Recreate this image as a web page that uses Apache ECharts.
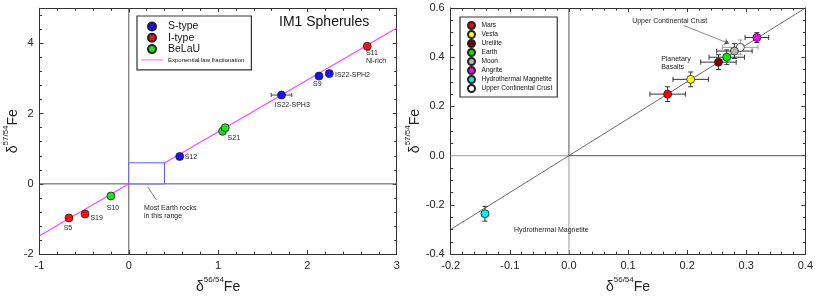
<!DOCTYPE html>
<html><head><meta charset="utf-8">
<script src="https://cdn.jsdelivr.net/npm/echarts@6/dist/echarts.min.js"></script>
<style>html,body{margin:0;padding:0;background:#fff}#c{width:816px;height:299px}</style>
</head><body><div id="c"></div>
<script>
// ---------- Left panel: IM1 spherules ----------
const sTypeNames = ['S12', 'IS22-SPH3', 'S9', 'IS22-SPH2'];
const sTypeX = [0.57, 1.71, 2.13, 2.245];
const sTypeY = [0.78, 2.53, 3.07, 3.14];
const iTypeNames = ['S5', 'S19', 'S11\nNi-rich'];
const iTypeX = [-0.67, -0.49, 2.67];
const iTypeY = [-0.97, -0.86, 3.92];
const belauNames = ['S10', 'S21', ''];
const belauX = [-0.20, 1.05, 1.08];
const belauY = [-0.345, 1.50, 1.60];
const leftErrX = [1.71, 1.05, 1.08];
const leftErrY = [2.53, 1.50, 1.60];
const leftErrDX = [0.115, 0.03, 0.03];
const leftErrDY = [0.08, 0.10, 0.08];
const fracLineX = [-1, 3];
const fracLineY = [-1.48, 4.44];
const earthBox = [0, 0, 0.4, 0.6];
const leftNoteText = ['Most Earth rocks\nin this range'];
const leftNoteX = [0.17];
const leftNoteY = [-0.8];
const leftLeaderX = [0.21, 0.31];
const leftLeaderY = [-0.08, -0.46];
const leftXTicks = [-1, 0, 1, 2, 3];
const leftYTicks = [-2, 0, 2, 4];

// ---------- Right panel: planetary materials ----------
const rightNames = ['Mars', 'Vesta', 'Ureilite', 'Earth', 'Moon', 'Angrite', 'Hydrothermal Magnetite', 'Upper Continental Crust'];
const rightX = [0.167, 0.206, 0.253, 0.267, 0.280, 0.318, -0.142, 0.290];
const rightY = [0.25, 0.31, 0.38, 0.40, 0.425, 0.48, -0.236, 0.44];
const rightDX = [0.03, 0.03, 0.03, 0.03, 0.03, 0.02, 0.006, 0.03];
const rightDY = [0.03, 0.03, 0.03, 0.03, 0.03, 0.02, 0.03, 0.03];
const massLineX = [-0.2, 0.4];
const massLineY = [-0.3, 0.6];
const rightNoteText = ['Upper Continental Crust', 'Planetary\nBasalts', 'Hydrothermal Magnetite'];
const rightNoteX = [0.107, 0.156, -0.093];
const rightNoteY = [0.545, 0.376, -0.304];
const uccArrowX = [0.194, 0.271];
const uccArrowY = [0.529, 0.456];

// ---------- styles (not data) ----------
const FONT = "'Liberation Sans', Arial, sans-serif";
const sTypeColor = '#1414f0', iTypeColor = '#f01414', belauColor = '#22dd22';
const rightColors = ['#ff0000', '#ffff00', '#800000', '#00ee00', '#b4b4b4', '#ff00ff', '#00f0f0', '#ffffff'];
const sTypeLabelOff = [[5, 1], [-6.7, 10.4], [-6, 8.4], [5.7, 1.3]];
const iTypeLabelOff = [[-5.3, 10], [5.4, 4.3], [-1.3, 11]];
const belauLabelOff = [[-4.3, 11.7], [5, 7], [0, 0]];

function pts(xs, ys, names, offs) {
  return xs.map((x, i) => ({
    value: [x, ys[i]],
    label: {
      show: !!names[i], formatter: names[i], position: 'inside', align: 'left', verticalAlign: 'middle',
      offset: offs[i], fontSize: 7, lineHeight: 8, color: '#222', fontFamily: FONT
    }
  }));
}

function errRender(cap) {
  return function (params, api) {
    const x = api.value(0), y = api.value(1), dx = api.value(2), dy = api.value(3);
    const l = api.coord([x - dx, y]), r = api.coord([x + dx, y]);
    const t = api.coord([x, y + dy]), b = api.coord([x, y - dy]);
    const st = { stroke: api.visual('color'), lineWidth: 1 };
    const L = (x1, y1, x2, y2) => ({ type: 'line', shape: { x1, y1, x2, y2 }, style: st });
    return {
      type: 'group', children: [
        L(l[0], l[1], r[0], r[1]), L(l[0], l[1] - cap, l[0], l[1] + cap), L(r[0], r[1] - cap, r[0], r[1] + cap),
        L(t[0], t[1], b[0], b[1]), L(t[0] - cap, t[1], t[0] + cap, t[1]), L(b[0] - cap, b[1], b[0] + cap, b[1])
      ]
    };
  };
}

function textRender(texts) {
  return function (params, api) {
    const p = api.coord([api.value(0), api.value(1)]);
    return {
      type: 'text', x: p[0], y: p[1],
      style: { text: texts[params.dataIndex], fontSize: 7, lineHeight: 8, fontFamily: FONT, fill: '#222', align: 'left', verticalAlign: 'middle' }
    };
  };
}

function axisName() {
  return {
    rich: {
      d: { fontSize: 14, fontFamily: FONT, color: '#222', verticalAlign: 'bottom', lineHeight: 18 },
      s: { fontSize: 8, fontFamily: FONT, color: '#222', verticalAlign: 'top', lineHeight: 18 }
    }
  };
}

function mkAxis(gridIndex, pos, min, max, interval, minorSplit, showLabel, fmt, name, nameGap) {
  return {
    type: 'value', gridIndex, position: pos, min, max, interval,
    axisLine: { show: true, onZero: false, lineStyle: { color: '#333', width: 1 } },
    axisTick: { show: true, inside: true, length: 4, lineStyle: { color: '#333' } },
    minorTick: { show: true, splitNumber: minorSplit, length: 2.5, lineStyle: { color: '#333' } },
    splitLine: { show: false },
    axisLabel: { show: showLabel, fontSize: 11, color: '#222', fontFamily: FONT, margin: 6, formatter: fmt },
    name: name || '', nameLocation: 'middle', nameGap: nameGap || 0,
    nameTextStyle: axisName()
  };
}

const intFmt = v => (Math.abs(v - Math.round(v)) < 1e-9 && leftYTicks.concat(leftXTicks).includes(Math.round(v))) ? String(Math.round(v)) : '';
const dec1 = v => v.toFixed(1);

const xName = '{d|δ}{s|56/54}{d|Fe}';
const yName = '{d|δ}{s|57/54}{d|Fe}';

const leftYAxis = mkAxis(0, 'left', -2, 5, 2, 5, true, intFmt, yName, 12);
leftYAxis.axisLabel.showMaxLabel = false;

const option = {
  animation: false,
  backgroundColor: '#fff',
  title: { text: 'IM1 Spherules', left: 279, top: 15, padding: 0, textStyle: { fontSize: 14, fontWeight: 'normal', color: '#111', fontFamily: FONT } },
  grid: [
    { left: 39.5, right: 419.3, top: 8.3, bottom: 40.7 },
    { left: 450.7, right: 6.7, top: 8, bottom: 40.7 }
  ],
  xAxis: [
    mkAxis(0, 'bottom', -1, 3, 1, 5, true, intFmt, xName, 17),
    mkAxis(0, 'top', -1, 3, 1, 5, false),
    mkAxis(1, 'bottom', -0.2, 0.4, 0.1, 5, true, dec1, xName, 17),
    mkAxis(1, 'top', -0.2, 0.4, 0.1, 5, false)
  ],
  yAxis: [
    leftYAxis,
    mkAxis(0, 'right', -2, 5, 2, 5, false),
    mkAxis(1, 'left', -0.4, 0.6, 0.2, 4, true, dec1, yName, 20),
    mkAxis(1, 'right', -0.4, 0.6, 0.2, 4, false)
  ],
  legend: [
    {
      orient: 'vertical', left: 137, top: 16, padding: [5, 7, 5, 4], itemWidth: 22, itemHeight: 8, itemGap: 0.3,
      backgroundColor: '#fff', borderColor: '#333', borderWidth: 1.2, selectedMode: false,
      textStyle: { fontSize: 10.5, lineHeight: 10, color: '#111', fontFamily: FONT },
      data: [
        { name: 'S-type', icon: 'circle' }, { name: 'I-type', icon: 'circle' }, { name: 'BeLaU', icon: 'circle' },
        { name: 'Exponential law fractionation', icon: 'path://M0,0L44,0L44,3L0,3Z', textStyle: { fontSize: 6, lineHeight: 10 } }
      ]
    },
    {
      orient: 'vertical', left: 460, top: 17, padding: [4, 5, 4, 7], itemWidth: 10, itemHeight: 7, itemGap: 0,
      backgroundColor: '#fff', borderColor: '#333', borderWidth: 1.2, selectedMode: false,
      textStyle: { fontSize: 6.6, lineHeight: 8, color: '#111', fontFamily: FONT },
      data: rightNames.map(n => ({ name: n, icon: 'circle' }))
    }
  ],
  series: []
};

const S = option.series;
// Left: zero lines
S.push({ type: 'line', xAxisIndex: 0, yAxisIndex: 0, data: [[0, -2], [0, 5]], symbol: 'none', lineStyle: { color: '#555', width: 1 }, z: 1, silent: true });
S.push({ type: 'line', xAxisIndex: 0, yAxisIndex: 0, data: [[-1, 0], [3, 0]], symbol: 'none', lineStyle: { color: '#555', width: 1 }, z: 1, silent: true });
// Left: fractionation line
S.push({ name: 'Exponential law fractionation', type: 'line', xAxisIndex: 0, yAxisIndex: 0,
  data: fracLineX.map((x, i) => [x, fracLineY[i]]), symbol: 'none', lineStyle: { color: '#ff44ff', width: 1.2 }, itemStyle: { color: '#ff99ff' }, z: 2 });
// Left: Earth box
S.push({ type: 'custom', xAxisIndex: 0, yAxisIndex: 0, z: 3, data: [earthBox],
  renderItem: (p, api) => {
    const a = api.coord([api.value(0), api.value(3)]), b = api.coord([api.value(2), api.value(1)]);
    return { type: 'rect', shape: { x: a[0], y: a[1], width: b[0] - a[0], height: b[1] - a[1] }, style: { fill: '#fff', stroke: '#5a5aff', lineWidth: 1 } };
  } });
// Left: leader line and note
S.push({ type: 'line', xAxisIndex: 0, yAxisIndex: 0, data: leftLeaderX.map((x, i) => [x, leftLeaderY[i]]), symbol: 'none', lineStyle: { color: '#444', width: 0.7 }, z: 3, silent: true });
S.push({ type: 'custom', xAxisIndex: 0, yAxisIndex: 0, z: 4, data: leftNoteX.map((x, i) => [x, leftNoteY[i]]), renderItem: textRender(leftNoteText) });
// Left: error bars
S.push({ type: 'custom', xAxisIndex: 0, yAxisIndex: 0, z: 4, itemStyle: { color: '#444' },
  data: leftErrX.map((x, i) => [x, leftErrY[i], leftErrDX[i], leftErrDY[i]]), renderItem: errRender(2) });
// Left: points
const leftSym = { symbol: 'circle', symbolSize: 8, z: 6 };
S.push(Object.assign({ name: 'S-type', type: 'scatter', xAxisIndex: 0, yAxisIndex: 0, itemStyle: { color: sTypeColor, borderColor: '#222', borderWidth: 0.8, opacity: 1 },
  data: pts(sTypeX, sTypeY, sTypeNames, sTypeLabelOff) }, leftSym));
S.push(Object.assign({ name: 'I-type', type: 'scatter', xAxisIndex: 0, yAxisIndex: 0, itemStyle: { color: iTypeColor, borderColor: '#222', borderWidth: 0.8, opacity: 1 },
  data: pts(iTypeX, iTypeY, iTypeNames, iTypeLabelOff) }, leftSym));
S.push(Object.assign({ name: 'BeLaU', type: 'scatter', xAxisIndex: 0, yAxisIndex: 0, itemStyle: { color: belauColor, borderColor: '#222', borderWidth: 0.8, opacity: 1 },
  data: pts(belauX, belauY, belauNames, belauLabelOff) }, leftSym));

// Right: zero lines
S.push({ type: 'line', xAxisIndex: 2, yAxisIndex: 2, data: [[0, -0.4], [0, 0]], symbol: 'none', lineStyle: { color: '#b0b0b0', width: 1.3 }, z: 1, silent: true });
S.push({ type: 'line', xAxisIndex: 2, yAxisIndex: 2, data: [[0, 0], [0, 0.6]], symbol: 'none', lineStyle: { color: '#555', width: 1 }, z: 1, silent: true });
S.push({ type: 'line', xAxisIndex: 2, yAxisIndex: 2, data: [[-0.2, 0], [0, 0]], symbol: 'none', lineStyle: { color: '#b0b0b0', width: 1.3 }, z: 1, silent: true });
S.push({ type: 'line', xAxisIndex: 2, yAxisIndex: 2, data: [[0, 0], [0.4, 0]], symbol: 'none', lineStyle: { color: '#555', width: 1 }, z: 1, silent: true });
// Right: mass-dependent line
S.push({ type: 'line', xAxisIndex: 2, yAxisIndex: 2, data: massLineX.map((x, i) => [x, massLineY[i]]), symbol: 'none', lineStyle: { color: '#444', width: 0.8 }, z: 2, silent: true });
// Right: notes and arrow
S.push({ type: 'custom', xAxisIndex: 2, yAxisIndex: 2, z: 4, data: rightNoteX.map((x, i) => [x, rightNoteY[i]]), renderItem: textRender(rightNoteText) });
S.push({ type: 'lines', coordinateSystem: 'cartesian2d', xAxisIndex: 2, yAxisIndex: 2, z: 4, symbol: ['none', 'arrow'], symbolSize: 5,
  lineStyle: { color: '#555', width: 0.7, opacity: 1 }, data: [{ coords: uccArrowX.map((x, i) => [x, uccArrowY[i]]) }] });
// Right: error bars (UCC lighter)
S.push({ type: 'custom', xAxisIndex: 2, yAxisIndex: 2, z: 3, itemStyle: { color: '#333' },
  data: rightX.map((x, i) => [x, rightY[i], rightDX[i], rightDY[i]]).filter((d, i) => i !== 7), renderItem: errRender(2.5) });
S.push({ type: 'custom', xAxisIndex: 2, yAxisIndex: 2, z: 2, itemStyle: { color: '#a0a0a0' },
  data: [[rightX[7], rightY[7], rightDX[7], rightDY[7]]], renderItem: errRender(2.5) });
// Right: points (UCC drawn first, under Moon)
const order = [7, 0, 1, 2, 3, 5, 6, 4];
order.forEach(i => {
  S.push({ name: rightNames[i], type: 'scatter', xAxisIndex: 2, yAxisIndex: 2, symbol: 'circle', symbolSize: 8, z: i === 7 ? 5 : 6,
    itemStyle: { color: rightColors[i], borderColor: '#222', borderWidth: 0.8, opacity: 1 },
    data: [[rightX[i], rightY[i]]] });
});

const chart = echarts.init(document.getElementById('c'), null, { renderer: 'canvas' });
chart.setOption(option);
</script></body></html>
